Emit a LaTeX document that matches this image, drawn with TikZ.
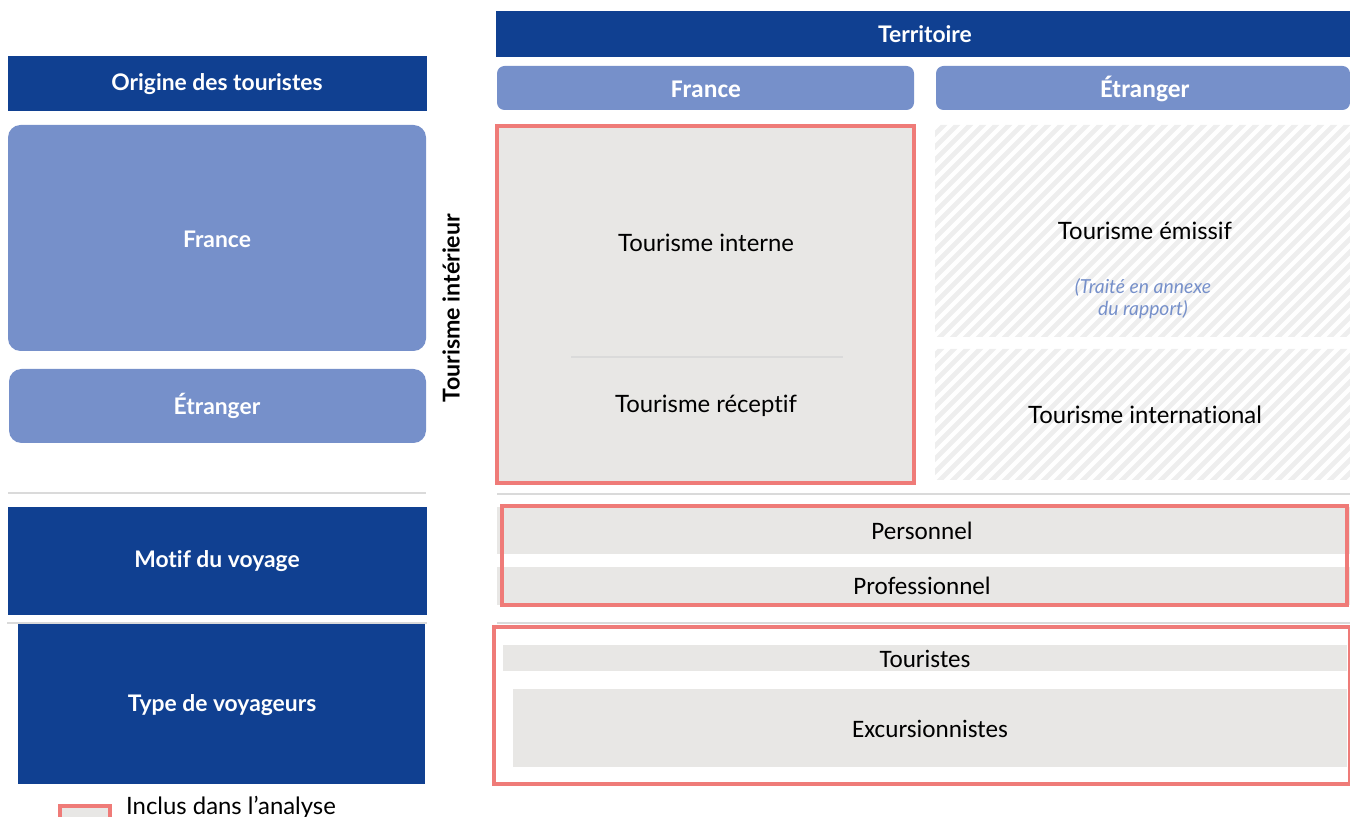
\documentclass[tikz,border=0pt]{standalone}
\usepackage{fontspec}
\setmainfont{Lato}[Ligatures=CommonOff]
\newfontfamily\calib{Carlito}
\usetikzlibrary{positioning}
\definecolor{bleufonce}{RGB}{16,64,145}
\definecolor{bleuclair}{RGB}{118,144,202}
\definecolor{grisfond}{RGB}{232,231,229}
\definecolor{rouge}{RGB}{239,123,120}
\definecolor{hachure}{RGB}{238,238,238}
\definecolor{trait}{RGB}{218,218,218}

\begin{document}
\begin{tikzpicture}[x=0.02cm,y=-0.02cm,
    titre/.style={text=white,font=\bfseries\fontsize{13}{15}\selectfont},
    souscol/.style={text=white,font=\calib\bfseries\fontsize{14.5}{17}\selectfont},
    cellule/.style={text=black,font=\fontsize{13.6}{16}\selectfont},
    bande/.style={text=black,font=\calib\fontsize{14.3}{17}\selectfont},
    note/.style={text=bleuclair,font=\itshape\fontsize{11}{12.5}\selectfont,align=center},
    cadre/.style={draw=rouge,line width=2.3pt},
    hatchline/.style={hachure,line width=2.8pt}]
    \useasboundingbox (0,0) rectangle (1350,817);

    % en-tetes
    \fill[bleufonce] (496,11) rectangle (1350,57);
    \node[titre] (territoire) at (925,34) {Territoire};
    \fill[bleufonce] (8,56) rectangle (427,111);
    \node[titre] (origine) at (217,84) {Origine des touristes};
    \fill[bleuclair,rounded corners=1.5mm] (497,66) rectangle (914,110);
    \node[souscol] (colfrance) at (706,89) {France};
    \fill[bleuclair,rounded corners=1.5mm] (936,66) rectangle (1350,110);
    \node[souscol] (coletranger) at (1145,89) {Étranger};

    % colonne de gauche
    \fill[bleuclair,rounded corners=2.5mm] (8,125) rectangle (426,351);
    \node[titre] (ligfrance) at (217,239) {France};
    \fill[bleuclair,rounded corners=2.5mm] (9,369) rectangle (426,443);
    \node[titre] (ligetranger) at (217,406) {Étranger};
    \draw[trait,line width=1.2pt] (8,493) -- (426,493);
    \fill[bleufonce] (8,507) rectangle (427,615);
    \node[titre] (motif) at (217,561) {Motif du voyage};
    \draw[trait,line width=1.2pt] (7,623) -- (427,623);
    \fill[bleufonce] (18,624) rectangle (425,784);
    \node[titre] (type) at (222,705) {Type de voyageurs};

    \node[rotate=90,font=\bfseries\fontsize{13.2}{15}\selectfont] (interieur) at (451,308) {Tourisme intérieur};

    % tourisme interieur
    \fill[grisfond] (497,126) rectangle (914,483);
    \draw[trait,line width=0.8pt] (571,357) -- (843,357);
    \draw[cadre] (497,126) rectangle (914,483);
    \node[cellule] (interne) at (706,243) {Tourisme interne};
    \node[cellule] (receptif) at (706,406) {Tourisme réceptif};

    % zones hachurees
    \begin{scope}
        \clip (935,125) rectangle (1350,337) (935,349) rectangle (1350,480);
        \foreach \x in {400,413,...,1360}
            \draw[hatchline] (\x,500) -- ++(500,-500);
    \end{scope}
    \node[cellule] (emissif) at (1145,231) {Tourisme émissif};
    \node[note] (annexe) at (1143,299) {(Traité en annexe\\ du rapport)};
    \node[cellule] (international) at (1145,415) {Tourisme international};

    % motif
    \draw[trait,line width=1.2pt] (497,494) -- (1350,494);
    \fill[grisfond] (497,507) rectangle (1350,554);
    \fill[grisfond] (497,567) rectangle (1350,605);
    \draw[cadre] (502,506) rectangle (1347,605);
    \node[bande] (perso) at (922,531) {Personnel};
    \node[bande] (pro) at (922,586) {Professionnel};

    % type de voyageurs
    \draw[trait,line width=0.8pt] (497,623) -- (1350,623);
    \fill[grisfond] (503,645) rectangle (1347,671);
    \fill[grisfond] (513,689) rectangle (1347,767);
    \draw[cadre] (494,627) rectangle (1350,784);
    \node[bande] (touristes) at (925,659) {Touristes};
    \node[bande] (excursion) at (930,729) {Excursionnistes};

    % legende
    \fill[grisfond] (60,806) rectangle (110,830);
    \draw[cadre] (60,806) rectangle (110,830);
    \node[anchor=west,font=\fontsize{13.6}{16}\selectfont] (legende) at (120,807) {Inclus dans l’analyse};
\end{tikzpicture}
\end{document}
